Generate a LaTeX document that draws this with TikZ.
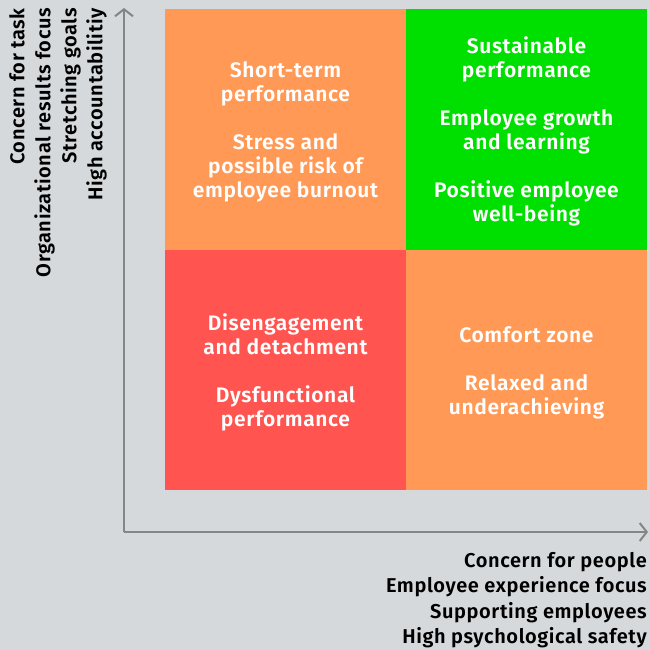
\documentclass[tikz,border=0pt]{standalone}
\usepackage{fontspec}
\setmainfont{Fira Sans}[UprightFont=* Medium, BoldFont=* SemiBold, LetterSpace=3]
\usepackage{tikz}
\usetikzlibrary{positioning}
\usetikzlibrary{arrows.meta}
\usepackage{xcolor}
\definecolor{bgrey}{HTML}{D5D9DC}
\definecolor{qorange}{HTML}{FF9955}
\definecolor{qgreen}{HTML}{00E000}
\definecolor{qred}{HTML}{FF5450}
\definecolor{axisgrey}{HTML}{858585}

\begin{document}
\begin{tikzpicture}[x=1pt,y=-1pt,
	quadtext/.style={inner sep=0pt,text=white,align=center,
		font=\fontsize{21}{24}\selectfont\bfseries},
	axis/.style={line width=2pt,axisgrey,-{Straight Barb[length=7pt,width=18pt,line width=2pt]}},
	axislabel/.style={align=right,inner sep=0pt,font=\fontsize{20}{25.5}\selectfont\bfseries}]
	\useasboundingbox [fill=bgrey] (0,0) rectangle (650,650);
	% quadrants
	\fill [qorange] (165,9) rectangle (406,249.5);
	\fill [qgreen] (406,9) rectangle (647,249.5);
	\fill [qred] (165,249.5) rectangle (406,490);
	\fill [qorange] (406,249.5) rectangle (647,490);
	\node [quadtext] (shortterm) at (285.5,132) {Short-term\\performance\\[24pt]Stress and\\possible risk of\\employee burnout};
	\node [quadtext] (sustain) at (526.5,131.5) {Sustainable\\performance\\[24pt]Employee growth\\and learning\\[24pt]Positive employee\\well-being};
	\node [quadtext] (disengage) at (285.5,372.5) {Disengagement\\and detachment\\[24pt]Dysfunctional\\performance};
	\node [quadtext] (comfort) at (526.5,372.5) {Comfort zone\\[24pt]Relaxed and\\underachieving};
	% axes
	\coordinate (origin) at (124,532);
	\coordinate (ytop) at (124,8);
	\coordinate (xend) at (648,532);
	\draw [axis] (origin) -- (ytop);
	\draw [axis] (origin) -- (xend);
	% axis labels
	\node [axislabel,anchor=north east] (peoplelab) at (647,552) {Concern for people\\Employee experience focus\\Supporting employees\\High psychological safety};
	\node [axislabel,anchor=south east,rotate=90,font=\fontsize{20}{26}\selectfont\bfseries] (tasklab) at (107,8) {Concern for task\\Organizational results focus\\Stretching goals\\High accountabilitiy};
\end{tikzpicture}
\end{document}
